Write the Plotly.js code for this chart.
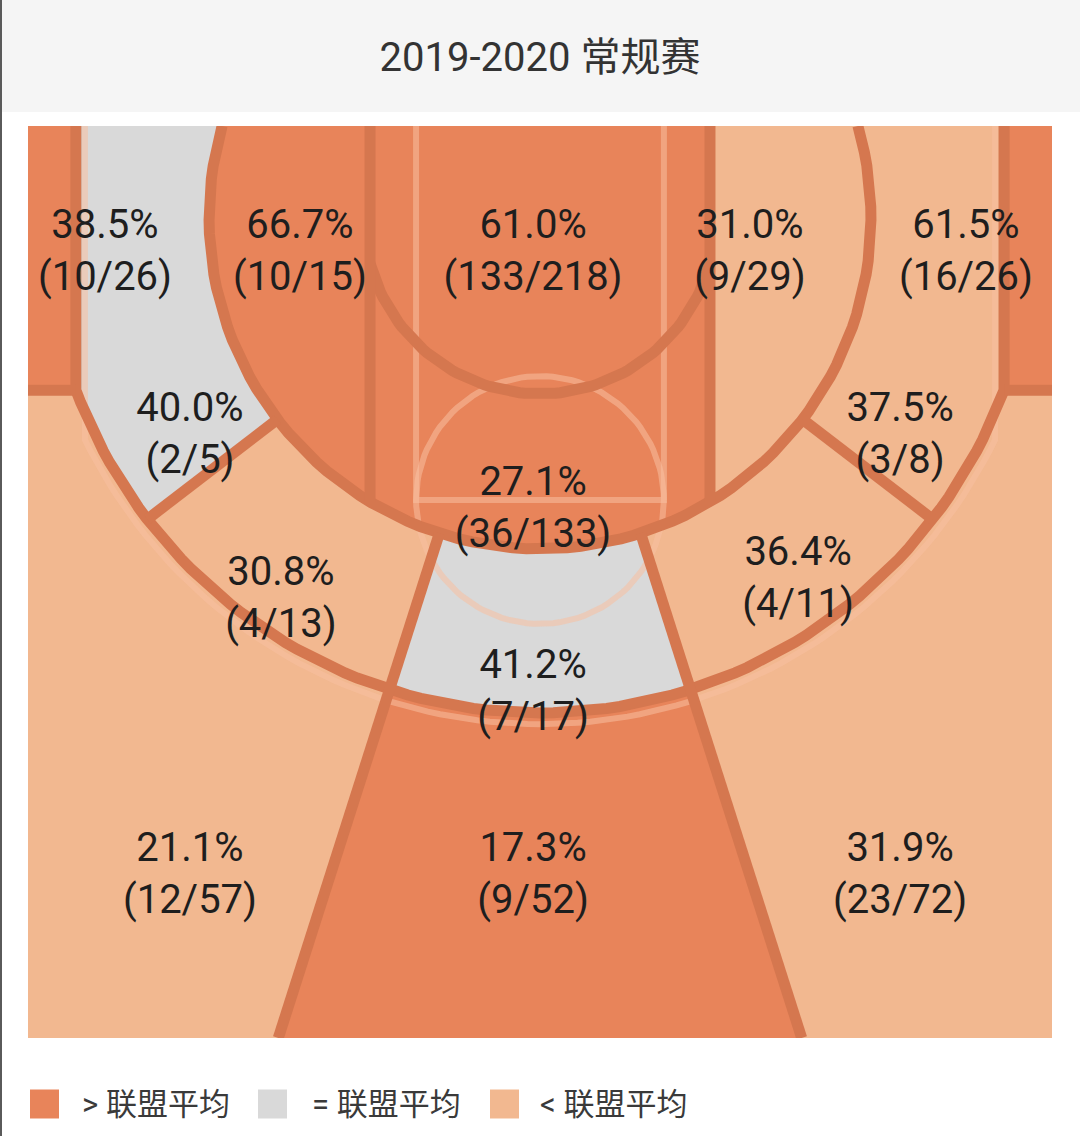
<!DOCTYPE html>
<html>
<head>
<meta charset="utf-8">
<script src="https://cdn.plot.ly/plotly-3.0.1.min.js"></script>
<style>html,body{margin:0;padding:0;background:#ffffff;}</style>
</head>
<body>
<div id="chart" style="width:1080px;height:1136px;"></div>
<script>
// ---------------- DATA ----------------
const titleText = '2019-2020 常规赛';
const zoneIds  = ['leftCorner3','leftBaseMid','leftShort','restricted','rightShort','rightBaseMid','rightCorner3',
                  'paint','leftWingMid','centerMid','rightWingMid','leftWing3','center3','rightWing3'];
const made     = [10, 2, 10, 133, 9, 3, 16, 36, 4, 7, 4, 12, 9, 23];
const attempts = [26, 5, 15, 218, 29, 8, 26, 133, 13, 17, 11, 57, 52, 72];
const vsLeague = ['>', '=', '>', '>', '<', '<', '>', '>', '<', '=', '<', '<', '>', '<'];
const legendKeys   = ['>', '=', '<'];
const legendLabels = ['> 联盟平均', '= 联盟平均', '< 联盟平均'];

// ---------------- STYLE ----------------
const FILL = {'>': '#E8845A', '=': '#D9D9D9', '<': '#F2B890'};
const LINE_DARK = '#D5774F';
const LINE_LIGHT = 'rgba(248,192,160,0.55)';
const FONT = 'Roboto, "Noto Sans CJK SC", "Noto Sans", sans-serif';

// ---------------- COURT GEOMETRY (feet) ----------------
const FIG_W = 1080, FIG_H = 1136;
const PX_PER_FT = 20.48;          // drawing scale
const COURT_TOP_PX = 126;         // baseline position in the figure
const TITLE_BAR_PX = 112;
const G = {
  half: 25, depth: 44.53, by: 4.49,
  r1: 8.59, r2: 16.16, r3: 24.17, x3: 22.66, lane: 8.30,
  ftHalf: 6.05, ftY: 18.26, x3l: 22.22, r3l: 24.72,
  aWing: 52.5, aCenter: 17.7
};
const D2R = Math.PI / 180;
const P = (r, a) => [r * Math.sin(a * D2R), G.by + r * Math.cos(a * D2R)];
const arc = (r, a0, a1, n = 90) => { const o = []; for (let i = 0; i <= n; i++) o.push(P(r, a0 + (a1 - a0) * i / n)); return o; };
const aBase = r => Math.acos(-G.by / r) / D2R;
const aB2 = aBase(G.r2);
const aR1 = Math.asin(G.lane / G.r1) / D2R;      // inner circle meets the lane lines
const aL = Math.asin(G.lane / G.r2) / D2R;
const aC3 = Math.asin(G.x3 / G.r3) / D2R;
const aC3l = Math.asin(G.x3l / G.r3l) / D2R;
const yJ = G.by + Math.sqrt(G.r3 * G.r3 - G.x3 * G.x3);
const rayBottom = a => [(G.depth - G.by) * Math.tan(a * D2R), G.depth];
const mirror = pts => pts.map(([x, y]) => [-x, y]);

const leftCorner3 = [[-G.half, 0], [-G.x3, 0], [-G.x3, yJ], [-G.half, yJ]];
const leftBaseMid = [[-G.x3, 0], ...arc(G.r3, -aC3, -G.aWing), ...arc(G.r2, -G.aWing, -aB2)];
const leftShort   = [[-G.lane, 0], ...arc(G.r2, -aB2, -aL)];
const leftWingMid = [...arc(G.r3, -G.aWing, -G.aCenter), ...arc(G.r2, -G.aCenter, -G.aWing)];
const leftWing3   = [[-G.half, yJ], [-G.x3, yJ], ...arc(G.r3, -aC3, -G.aCenter), rayBottom(-G.aCenter), [-G.half, G.depth]];

const SHAPE = {
  leftCorner3, leftBaseMid, leftShort, leftWingMid, leftWing3,
  rightCorner3: mirror(leftCorner3), rightBaseMid: mirror(leftBaseMid), rightShort: mirror(leftShort),
  rightWingMid: mirror(leftWingMid), rightWing3: mirror(leftWing3),
  restricted: [[-G.lane, 0], ...arc(G.r1, -aR1, aR1), [G.lane, 0]],
  paint: [[-G.lane, 0], ...arc(G.r2, -aL, aL), [G.lane, 0], ...arc(G.r1, aR1, -aR1)],
  centerMid: [...arc(G.r3, -G.aCenter, G.aCenter), ...arc(G.r2, G.aCenter, -G.aCenter)],
  center3: [...arc(G.r3, -G.aCenter, G.aCenter), rayBottom(G.aCenter), rayBottom(-G.aCenter)]
};
// label anchors (feet)
const LABEL_AT = {
  leftCorner3: [-21.24, 6.25], leftBaseMid: [-17.09, 15.19], leftShort: [-11.72, 6.25],
  restricted: [-0.34, 6.25], rightShort: [10.25, 6.25], rightBaseMid: [17.58, 15.19],
  rightCorner3: [20.80, 6.25], paint: [-0.34, 18.80], leftWingMid: [-12.65, 23.2],
  centerMid: [-0.34, 27.74], rightWingMid: [12.60, 22.22], leftWing3: [-17.09, 36.67],
  center3: [-0.34, 36.67], rightWing3: [17.58, 36.67]
};

const darkSegs = [
  arc(G.r1, -aR1, aR1),
  arc(G.r2, -aB2, aB2),
  [[-G.x3, 0], ...arc(G.r3, -aC3, aC3), [G.x3, 0]],
  [[-G.half, yJ], [-G.x3, yJ]], [[G.x3, yJ], [G.half, yJ]],
  [[-G.lane, 0], P(G.r2, -aL)], [[G.lane, 0], P(G.r2, aL)],
  [P(G.r2, -G.aWing), P(G.r3, -G.aWing)], [P(G.r2, G.aWing), P(G.r3, G.aWing)],
  [P(G.r2, -G.aCenter), rayBottom(-G.aCenter)], [P(G.r2, G.aCenter), rayBottom(G.aCenter)]
];
const ftCircle = []; for (let i = 0; i <= 120; i++) { const t = 2 * Math.PI * i / 120; ftCircle.push([G.ftHalf * Math.cos(t), G.ftY + G.ftHalf * Math.sin(t)]); }
const lightSegs = [
  [[-G.ftHalf, 0], [-G.ftHalf, G.ftY], [G.ftHalf, G.ftY], [G.ftHalf, 0]],
  ftCircle,
  [[-G.x3l, 0], ...arc(G.r3l, -aC3l, aC3l), [G.x3l, 0]]
];
const joinSegs = segs => { const x = [], y = []; segs.forEach(s => { s.forEach(p => { x.push(p[0]); y.push(p[1]); }); x.push(null); y.push(null); }); return {x, y}; };

// ---------------- TRACES ----------------
const traces = [];
zoneIds.forEach((id, i) => {
  const pts = SHAPE[id];
  traces.push({
    type: 'scatter', mode: 'lines', fill: 'toself',
    x: pts.map(p => p[0]), y: pts.map(p => p[1]),
    fillcolor: FILL[vsLeague[i]], line: {width: 0, color: FILL[vsLeague[i]]},
    hoverinfo: 'skip', showlegend: false
  });
});
const ls = joinSegs(lightSegs);
traces.push({type: 'scatter', mode: 'lines', x: ls.x, y: ls.y, line: {color: LINE_LIGHT, width: 6}, hoverinfo: 'skip', showlegend: false});
const ds = joinSegs(darkSegs);
traces.push({type: 'scatter', mode: 'lines', x: ds.x, y: ds.y, line: {color: LINE_DARK, width: 11}, hoverinfo: 'skip', showlegend: false});
traces.push({
  type: 'scatter', mode: 'text',
  x: zoneIds.map(id => LABEL_AT[id][0]), y: zoneIds.map(id => LABEL_AT[id][1]),
  text: zoneIds.map((id, i) => (100 * made[i] / attempts[i]).toFixed(1) + '%<br>(' + made[i] + '/' + attempts[i] + ')'),
  textposition: 'middle center', textfont: {family: FONT, size: 40, color: '#1E1E1E'},
  hoverinfo: 'skip', showlegend: false, cliponaxis: false
});

// ---------------- LAYOUT ----------------
const px2paperX = px => px / FIG_W;
const px2paperY = py => 1 - py / FIG_H;
const courtBottomPx = COURT_TOP_PX + G.depth * PX_PER_FT;
const shapes = [
  {type: 'rect', xref: 'paper', yref: 'paper', x0: 0, x1: 1, y0: px2paperY(TITLE_BAR_PX), y1: 1, fillcolor: '#F5F5F5', line: {width: 0}, layer: 'below'},
  // trim line ends outside the court
  {type: 'rect', xref: 'paper', yref: 'paper', x0: 0, x1: 1, y0: px2paperY(COURT_TOP_PX), y1: px2paperY(TITLE_BAR_PX), fillcolor: '#FFFFFF', line: {width: 0}, layer: 'above'},
  {type: 'rect', xref: 'paper', yref: 'paper', x0: 0, x1: 1, y0: px2paperY(courtBottomPx + 30), y1: px2paperY(courtBottomPx), fillcolor: '#FFFFFF', line: {width: 0}, layer: 'above'},
  {type: 'line', xref: 'paper', yref: 'paper', x0: px2paperX(1), x1: px2paperX(1), y0: 0, y1: 1, line: {color: '#5A5A5A', width: 2}, layer: 'above'}
];
const annotations = [];
const LEG_SQ_X = [30, 258, 490], LEG_TX_X = [80, 310, 538], LEG_Y = 1104, LEG_SQ = 29;
legendKeys.forEach((k, i) => {
  shapes.push({type: 'rect', xref: 'paper', yref: 'paper',
    x0: px2paperX(LEG_SQ_X[i]), x1: px2paperX(LEG_SQ_X[i] + LEG_SQ),
    y0: px2paperY(LEG_Y + LEG_SQ / 2), y1: px2paperY(LEG_Y - LEG_SQ / 2),
    fillcolor: FILL[k], line: {width: 0}, layer: 'above'});
  annotations.push({xref: 'paper', yref: 'paper', x: px2paperX(LEG_TX_X[i]), y: px2paperY(LEG_Y),
    xanchor: 'left', yanchor: 'middle', showarrow: false, text: legendLabels[i],
    font: {family: FONT, size: 31, color: '#3A3A3A'}});
});

const layout = {
  width: FIG_W, height: FIG_H, autosize: false,
  margin: {l: 0, r: 0, t: 0, b: 0, pad: 0},
  paper_bgcolor: '#FFFFFF', plot_bgcolor: '#FFFFFF',
  title: {text: titleText, x: 0.5, xanchor: 'center', xref: 'paper', y: 1 - 57 / FIG_H, yanchor: 'middle', yref: 'container',
          font: {family: FONT, size: 40, color: '#333333'}},
  xaxis: {range: [-(FIG_W / 2) / PX_PER_FT, (FIG_W / 2) / PX_PER_FT], visible: false, fixedrange: true},
  yaxis: {range: [(FIG_H - COURT_TOP_PX) / PX_PER_FT, -COURT_TOP_PX / PX_PER_FT], visible: false, fixedrange: true},
  shapes, annotations, showlegend: false
};
Plotly.newPlot('chart', traces, layout, {displayModeBar: false, staticPlot: true});
</script>
</body>
</html>
